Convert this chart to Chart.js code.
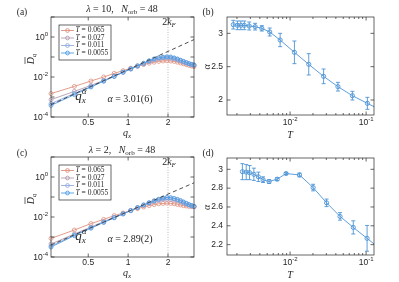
<!DOCTYPE html>
<html>
<head>
<meta charset="utf-8">
<script src="https://cdn.jsdelivr.net/npm/chart.js@4.4.0/dist/chart.umd.min.js"></script>
<style>
  body { margin: 0; background: #fff; }
  #fig { position: relative; width: 399px; height: 282px; overflow: hidden; }
  canvas { position: absolute; }
</style>
</head>
<body>
<div id="fig">
  <canvas id="pa" width="200" height="141" style="left:0;top:0"></canvas>
  <canvas id="pb" width="199" height="141" style="left:200px;top:0"></canvas>
  <canvas id="pc" width="200" height="141" style="left:0;top:141px"></canvas>
  <canvas id="pd" width="199" height="141" style="left:200px;top:141px"></canvas>
</div>
<script>
// ---- data ----
// q_x = 2*pi*n/48, n = 2..24
const qx = [0.262, 0.393, 0.524, 0.654, 0.785, 0.916, 1.047, 1.178, 1.309, 1.440, 1.571, 1.702,
            1.833, 1.963, 2.094, 2.225, 2.356, 2.487, 2.618, 2.749, 2.880, 3.011, 3.142];
const tempLabels = ['0.065', '0.027', '0.011', '0.0055'];

// log10 of D_q, panel (a), lambda = 10
const aLog065  = [-2.83, -2.47, -2.20, -2.00, -1.82, -1.68, -1.56, -1.46, -1.38, -1.31, -1.26, -1.22, -1.20, -1.19, -1.20, -1.22, -1.26, -1.30, -1.34, -1.38, -1.42, -1.45, -1.48];
const aLog027  = [-3.13, -2.72, -2.42, -2.17, -1.95, -1.76, -1.60, -1.46, -1.34, -1.23, -1.15, -1.09, -1.06, -1.05, -1.07, -1.10, -1.15, -1.20, -1.26, -1.31, -1.35, -1.39, -1.42];
const aLog011  = [-3.33, -2.82, -2.48, -2.20, -1.97, -1.77, -1.60, -1.45, -1.32, -1.20, -1.11, -1.05, -1.02, -1.01, -1.02, -1.06, -1.11, -1.17, -1.23, -1.28, -1.33, -1.37, -1.40];
const aLog0055 = [-3.42, -2.88, -2.50, -2.21, -1.97, -1.76, -1.59, -1.44, -1.31, -1.19, -1.10, -1.04, -1.01, -0.99, -1.00, -1.05, -1.10, -1.16, -1.22, -1.28, -1.33, -1.37, -1.40];

// log10 of D_q, panel (c), lambda = 2
const cLog065  = [-3.07, -2.65, -2.33, -2.12, -1.93, -1.80, -1.68, -1.58, -1.50, -1.43, -1.38, -1.34, -1.32, -1.31, -1.32, -1.34, -1.37, -1.40, -1.43, -1.45, -1.47, -1.48, -1.49];
const cLog027  = [-3.35, -2.85, -2.50, -2.23, -2.01, -1.83, -1.67, -1.53, -1.41, -1.31, -1.23, -1.17, -1.13, -1.12, -1.13, -1.16, -1.20, -1.25, -1.30, -1.35, -1.40, -1.44, -1.48];
const cLog011  = [-3.45, -2.90, -2.54, -2.26, -2.03, -1.84, -1.68, -1.53, -1.40, -1.29, -1.20, -1.13, -1.08, -1.05, -1.06, -1.09, -1.14, -1.20, -1.26, -1.32, -1.38, -1.43, -1.47];
const cLog0055 = [-3.50, -2.93, -2.56, -2.27, -2.04, -1.85, -1.68, -1.53, -1.40, -1.29, -1.19, -1.11, -1.05, -1.02, -1.03, -1.07, -1.12, -1.18, -1.25, -1.32, -1.38, -1.43, -1.47];

// power-law fit q_x^alpha (end points of the dashed line)
const fitQ = [0.2618, 3.1416];
const aFitLog = [-3.38, -0.13];
const cFitLog = [-3.40, -0.29];
const twoKF = 2;

// alpha(T), panel (b)
const bT   = [0.00179, 0.00203, 0.00225, 0.0025, 0.0029, 0.00347, 0.00425, 0.0054, 0.0074, 0.0114, 0.0176, 0.0276, 0.0426, 0.066, 0.104];
const bA   = [3.13, 3.12, 3.12, 3.12, 3.11, 3.10, 3.075, 3.02, 2.90, 2.715, 2.535, 2.355, 2.20, 2.065, 1.95];
const bErr = [0.065, 0.065, 0.065, 0.065, 0.06, 0.05, 0.04, 0.06, 0.10, 0.17, 0.16, 0.11, 0.065, 0.065, 0.09];
const bEdge = { T: 0.127, a: 1.90 };

// alpha(T), panel (d)
const dT   = [0.00236, 0.00265, 0.00293, 0.00334, 0.00383, 0.00441, 0.0053, 0.00677, 0.00885, 0.0133, 0.0201, 0.0302, 0.0454, 0.0678, 0.103];
const dA   = [2.975, 2.97, 2.965, 2.947, 2.92, 2.89, 2.87, 2.895, 2.955, 2.94, 2.806, 2.644, 2.50, 2.383, 2.267];
const dErr = [0.085, 0.08, 0.075, 0.065, 0.05, 0.03, 0.02, 0.015, 0.01, 0.02, 0.035, 0.04, 0.04, 0.07, 0.137];
const dEdge = { T: 0.127, a: 2.207 };

// ticks
const qTicks = [0.5, 1, 2];
const qTickLabels = ['0.5', '1', '2'];
const dTickExp = [-4, -2, 0];
const dDecades = [-4, -3, -2, -1, 0, 1];
const tTickExp = [-2, -1];
const bYTicks = [2, 2.5, 3];
const bYTickLabels = ['2', '2.5', '3'];
const dYTicks = [2.2, 2.4, 2.6, 2.8, 3];
const dYTickLabels = ['2.2', '2.4', '2.6', '2.8', '3'];

// ---- style ----
const SERIF = '"Liberation Serif", "DejaVu Serif", serif';
const SANS = '"Liberation Sans", Arial, sans-serif';
const INK = '#262626';
const colors = ['#e0917f', '#b49cb2', '#93abe2', '#4f9de4'];
const blue = '#4d94d6';

// text with italic / sub / sup pieces; 'isubsup' takes [sub, sup] stacked
function rich(ctx, parts, x, y, size, align) {
  const font = st => {
    const it = st && st.startsWith('i') ? 'italic ' : '';
    const small = st && (st.endsWith('sub') || st.endsWith('sup'));
    return it + (small ? size * 0.7 : size) + 'px ' + SERIF;
  };
  const width = ([t, st]) => {
    ctx.font = font(st);
    if (st === 'isubsup') return Math.max(ctx.measureText(t[0]).width, ctx.measureText(t[1]).width);
    return ctx.measureText(t).width;
  };
  let w = 0;
  parts.forEach(p => { w += width(p); });
  let cx = align === 'center' ? x - w / 2 : align === 'right' ? x - w : x;
  ctx.textAlign = 'left';
  ctx.textBaseline = 'middle';
  parts.forEach(p => {
    const [t, st] = p;
    const pw = width(p);
    ctx.font = font(st);
    if (st === 'isubsup') {
      ctx.fillText(t[0], cx, y + size * 0.3);
      ctx.fillText(t[1], cx, y - size * 0.42);
    } else {
      let dy = 0;
      if (st && st.endsWith('sub')) dy = size * 0.3;
      if (st && st.endsWith('sup')) dy = -size * 0.38;
      ctx.fillText(t, cx, y + dy);
    }
    cx += pw;
  });
}

function sciLabel(ctx, exp, x, y, align) {
  ctx.font = '8.5px ' + SANS;
  const w1 = ctx.measureText('10').width;
  ctx.font = '6px ' + SANS;
  const w2 = ctx.measureText(String(exp)).width;
  const x0 = align === 'right' ? x - w1 - w2 : x - (w1 + w2) / 2;
  ctx.textAlign = 'left';
  ctx.textBaseline = 'middle';
  ctx.fillStyle = INK;
  ctx.font = '8.5px ' + SANS;
  ctx.fillText('10', x0, y);
  ctx.font = '6px ' + SANS;
  ctx.fillText(String(exp), x0 + w1, y - 4);
}

function plainLabel(ctx, t, x, y, align) {
  ctx.font = '8.5px ' + SANS;
  ctx.fillStyle = INK;
  ctx.textAlign = align;
  ctx.textBaseline = 'middle';
  ctx.fillText(t, x, y);
}

// axes box with inward ticks on all sides
function frame(chart, xVals, xMinor, yVals, yMinor) {
  const { ctx, chartArea: a, scales } = chart;
  ctx.save();
  ctx.strokeStyle = INK;
  ctx.lineWidth = 0.7;
  ctx.strokeRect(a.left, a.top, a.right - a.left, a.bottom - a.top);
  ctx.beginPath();
  const xt = (v, len) => {
    const p = scales.x.getPixelForValue(v);
    ctx.moveTo(p, a.bottom); ctx.lineTo(p, a.bottom - len);
    ctx.moveTo(p, a.top); ctx.lineTo(p, a.top + len);
  };
  const yt = (v, len) => {
    const p = scales.y.getPixelForValue(v);
    ctx.moveTo(a.left, p); ctx.lineTo(a.left + len, p);
    ctx.moveTo(a.right, p); ctx.lineTo(a.right - len, p);
  };
  xVals.forEach(v => xt(v, 3.5));
  xMinor.forEach(v => xt(v, 2));
  yVals.forEach(v => yt(v, 3.5));
  yMinor.forEach(v => yt(v, 2));
  ctx.stroke();
  ctx.restore();
}

function dqChart(id, sets, fitLog, lam, alphaText, pad) {
  const datasets = [{
    data: fitQ.map((q, j) => ({ x: q, y: 10 ** fitLog[j] })),
    borderColor: '#3a3a3a', borderWidth: 0.9, borderDash: [4, 3], pointRadius: 0
  }];
  for (let i = sets.length - 1; i >= 0; i--) {
    datasets.push({
      data: qx.map((q, j) => ({ x: q, y: 10 ** sets[i][j] })),
      borderColor: colors[i], borderWidth: 0.9,
      pointRadius: 2, pointBorderWidth: 0.8,
      pointBorderColor: colors[i], pointBackgroundColor: 'rgba(0,0,0,0)',
      clip: false
    });
  }
  return new Chart(document.getElementById(id), {
    type: 'line',
    data: { datasets },
    options: {
      responsive: false, animation: false, events: [],
      layout: { padding: pad },
      plugins: { legend: { display: false }, tooltip: { enabled: false } },
      scales: {
        x: { type: 'logarithmic', min: fitQ[0], max: fitQ[1], display: false },
        y: { type: 'logarithmic', min: 1e-4, max: 10, display: false }
      }
    },
    plugins: [{
      id: 'decor',
      beforeDatasetsDraw(chart) {
        const { ctx, chartArea: a, scales } = chart;
        const p = scales.x.getPixelForValue(twoKF);
        ctx.save();
        ctx.strokeStyle = '#a8a8a8';
        ctx.lineWidth = 0.8;
        ctx.setLineDash([1, 1.5]);
        ctx.beginPath(); ctx.moveTo(p, a.top); ctx.lineTo(p, a.bottom); ctx.stroke();
        ctx.restore();
      },
      afterDraw(chart) {
        const { ctx, chartArea: a, scales } = chart;
        frame(chart, qTicks, [], dDecades.map(e => 10 ** e), []);
        ctx.save();
        // tick labels
        qTicks.forEach((v, i) => plainLabel(ctx, qTickLabels[i], scales.x.getPixelForValue(v), a.bottom + 6, 'center'));
        dTickExp.forEach(e => sciLabel(ctx, e, a.left - 3, scales.y.getPixelForValue(10 ** e) + 1, 'right'));
        ctx.fillStyle = INK;
        // panel letter and title
        rich(ctx, [['(' + id.slice(1) + ')']], 22, 12, 9.5, 'center');
        rich(ctx, [['λ', 'i'], [' = ' + lam + ',   '], ['N', 'i'], ['orb', 'sub'], [' = 48']], 122, 9, 10, 'center');
        // axis titles
        rich(ctx, [['q', 'i'], ['x', 'isub']], 127, a.bottom + 16, 10, 'center');
        ctx.save();
        ctx.translate(31, (a.top + a.bottom) / 2 - 8);
        ctx.rotate(-Math.PI / 2);
        rich(ctx, [['D', 'i'], ['q', 'isub']], 0, 0, 10, 'center');
        ctx.strokeStyle = INK; ctx.lineWidth = 0.7;
        ctx.beginPath(); ctx.moveTo(-5, -6); ctx.lineTo(2, -6); ctx.stroke();
        ctx.restore();
        // annotations
        rich(ctx, [['2'], ['k', 'i'], ['F', 'isub']], 169, a.top + 5, 10, 'center');
        rich(ctx, [['q', 'i'], [['x', 'α'], 'isubsup']], 81, a.top + 80, 13, 'center');
        rich(ctx, [['α', 'i'], [' = ' + alphaText]], 130, a.top + 82, 10, 'center');
        // legend
        const lx = 59, ly = a.top + 8, lw = 52, lh = 35;
        ctx.fillStyle = '#fff';
        ctx.fillRect(lx, ly, lw, lh);
        ctx.strokeStyle = INK; ctx.lineWidth = 0.7;
        ctx.strokeRect(lx, ly, lw, lh);
        tempLabels.forEach((lab, i) => {
          const yy = ly + 5.5 + i * 7.5;
          ctx.strokeStyle = colors[i]; ctx.lineWidth = 0.9;
          ctx.beginPath(); ctx.moveTo(lx + 2, yy); ctx.lineTo(lx + 15, yy); ctx.stroke();
          ctx.beginPath(); ctx.arc(lx + 8.5, yy, 1.9, 0, 2 * Math.PI); ctx.stroke();
          ctx.fillStyle = INK;
          rich(ctx, [['T', 'i'], [' = ' + lab]], lx + 16.5, yy, 7.5, 'left');
        });
        ctx.restore();
      }
    }]
  });
}

function alphaChart(id, T, A, E, edge, yMin, yMax, yTicks, yTickLabels, pad) {
  const pts = T.map((t, i) => ({ x: t, y: A[i] }));
  return new Chart(document.getElementById(id), {
    type: 'line',
    data: {
      datasets: [{
        data: pts.concat([{ x: edge.T, y: edge.a }]),
        borderColor: blue, borderWidth: 0.9,
        pointRadius: c => (c.dataIndex < T.length ? 2.1 : 0),
        pointBorderWidth: 0.9, pointBorderColor: blue, pointBackgroundColor: 'rgba(0,0,0,0)',
        clip: false
      }]
    },
    options: {
      responsive: false, animation: false, events: [],
      layout: { padding: pad },
      plugins: { legend: { display: false }, tooltip: { enabled: false } },
      scales: {
        x: { type: 'logarithmic', min: 0.00148, max: 0.127, display: false },
        y: { type: 'linear', min: yMin, max: yMax, display: false }
      }
    },
    plugins: [{
      id: 'decor',
      afterDatasetsDraw(chart) {
        const { ctx, scales } = chart;
        ctx.save();
        ctx.strokeStyle = blue;
        ctx.lineWidth = 0.9;
        ctx.beginPath();
        T.forEach((t, i) => {
          const x = scales.x.getPixelForValue(t);
          const y1 = scales.y.getPixelForValue(A[i] - E[i]);
          const y2 = scales.y.getPixelForValue(A[i] + E[i]);
          ctx.moveTo(x, y1); ctx.lineTo(x, y2);
          ctx.moveTo(x - 2, y1); ctx.lineTo(x + 2, y1);
          ctx.moveTo(x - 2, y2); ctx.lineTo(x + 2, y2);
        });
        ctx.stroke();
        ctx.restore();
      },
      afterDraw(chart) {
        const { ctx, chartArea: a, scales } = chart;
        const minor = [];
        [0.001, 0.01, 0.1].forEach(d => { for (let k = 2; k <= 9; k++) minor.push(k * d); });
        frame(chart, tTickExp.map(e => 10 ** e), minor.filter(v => v > 0.00148 && v < 0.127), yTicks, []);
        ctx.save();
        yTicks.forEach((v, i) => plainLabel(ctx, yTickLabels[i], a.left - 4, scales.y.getPixelForValue(v), 'right'));
        tTickExp.forEach(e => sciLabel(ctx, e, scales.x.getPixelForValue(10 ** e), a.bottom + 8, 'center'));
        ctx.fillStyle = INK;
        rich(ctx, [['(' + id.slice(1) + ')']], 8, 12, 9.5, 'center');
        rich(ctx, [['T', 'i']], 90, a.bottom + 20, 10, 'center');
        ctx.save();
        ctx.translate(7, (a.top + a.bottom) / 2 + 1);
        ctx.rotate(-Math.PI / 2);
        rich(ctx, [['α', 'i']], 0, 0, 10, 'center');
        ctx.restore();
        ctx.restore();
      }
    }]
  });
}

dqChart('pa', [aLog065, aLog027, aLog011, aLog0055], aFitLog, '10', '3.01(6)',
  { left: 51, top: 17, right: 6, bottom: 24 });
dqChart('pc', [cLog065, cLog027, cLog011, cLog0055], cFitLog, '2', '2.89(2)',
  { left: 51, top: 16, right: 6, bottom: 25 });
alphaChart('pb', bT, bA, bErr, bEdge, 1.775, 3.245, bYTicks, bYTickLabels,
  { left: 27, top: 17, right: 25, bottom: 26 });
alphaChart('pd', dT, dA, dErr, dEdge, 2.09, 3.12, dYTicks, dYTickLabels,
  { left: 27, top: 17, right: 25, bottom: 27 });
</script>
</body>
</html>
